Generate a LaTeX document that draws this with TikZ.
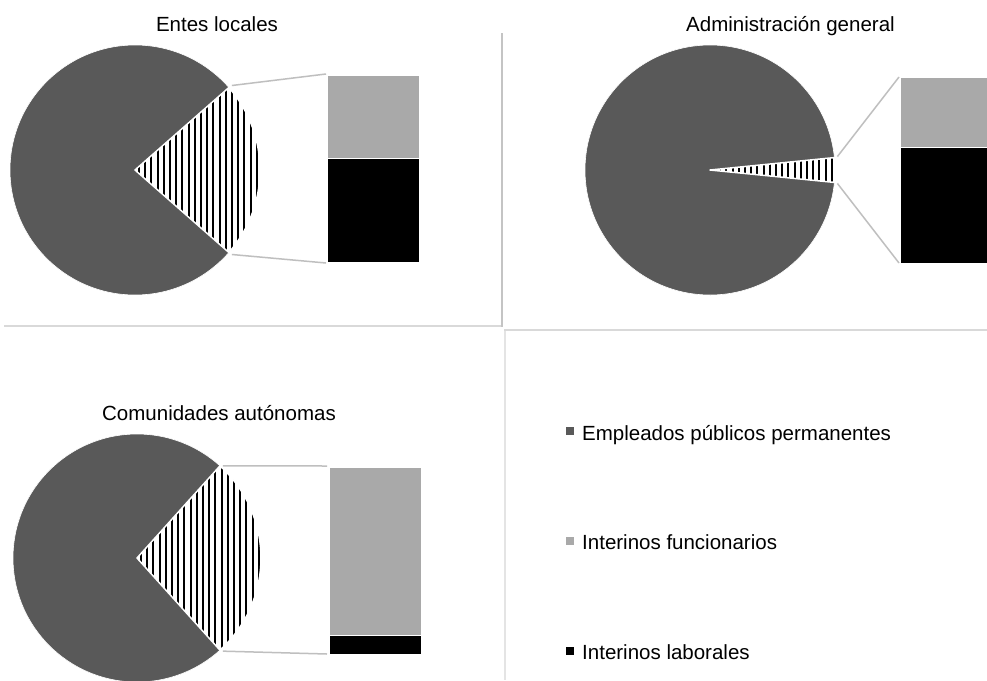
\documentclass[tikz,border=0pt]{standalone}
\usepackage{fontspec}
\setmainfont{Liberation Sans}
\usetikzlibrary{calc}
\definecolor{piedark}{HTML}{595959}
\definecolor{barlight}{HTML}{A9A9A9}
\definecolor{connc}{HTML}{BFBFBF}
\definecolor{gridc}{HTML}{D9D9D9}
\definecolor{gridd}{HTML}{C4C4C4}
\tikzset{
  hatchline/.style={black,line width=1.9pt},
  sepline/.style={white,line width=1.5pt,line join=round},
  connline/.style={connc,line width=1.5pt},
  barbox/.style={draw=white,line width=1pt},
  titletext/.style={inner sep=0pt,anchor=base,font=\fontsize{20.5}{24}\selectfont},
  legtext/.style={inner sep=0pt,anchor=base west,font=\fontsize{20.5}{24}\selectfont},
  legmark/.style={minimum size=0pt,inner sep=0pt},
}
\newcommand\mypie[5]{% cx, cy, r, half angle, name
  \coordinate (#5c) at (#1,#2);
  \fill[piedark] (#5c) -- ++(#4:#3) arc[start angle=#4, end angle=360-#4, radius=#3] -- cycle;
  \fill[white] (#5c) -- ++(-#4:#3) arc[start angle=-#4, end angle=#4, radius=#3] -- cycle;
  \begin{scope}
    \clip (#5c) -- ++(-#4:#3) arc[start angle=-#4, end angle=#4, radius=#3] -- cycle;
    \foreach \k in {0,...,21} \draw[hatchline] ($(#5c)+(\k*6.2+4,-#3)$) -- ++(0,2*#3);
  \end{scope}
  \draw[sepline] (#5c) -- ++(-#4:#3) arc[start angle=-#4, end angle=#4, radius=#3] -- cycle;
  \draw[white,line width=0.6pt] (#5c) circle[radius=#3];
  \coordinate (#5t) at ($(#5c)+(-#4:#3)$);
  \coordinate (#5b) at ($(#5c)+(#4:#3)$);
}
\begin{document}
\begin{tikzpicture}[x=1pt,y=-1pt]
\clip (0,0) rectangle (987,680);
\fill[white] (0,0) rectangle (987,680);

% panel borders
\draw[gridd,line width=2.5pt] (502,33) -- (502,327);
\draw[gridc,line width=1.5pt] (4,326) -- (501,326);
\draw[gridc,line width=2.5pt] (504,330) -- (987,330);
\draw[gridc!70,line width=1.5pt] (505,331) -- (505,680);

% titles
\node[titletext] (t1) at (217,31.5) {Entes locales};
\node[titletext] (t2) at (790.5,31.5) {Administración general};
\node[titletext] (t3) at (219,420) {Comunidades autónomas};

% chart 1
\mypie{135}{170}{125}{41.3}{p1}
\fill[barlight,barbox] (327,75) rectangle (419,158);
\fill[black,barbox] (327,158) rectangle (419,262);
\coordinate (b1t) at (326,74);
\coordinate (b1b) at (326,263);
\draw[connline] ($(p1t)+(3,-2)$) -- (b1t);
\draw[connline] ($(p1b)+(3,2)$) -- (b1b);

% chart 2
\mypie{710}{170}{125}{5.7}{p2}
\fill[barlight,barbox] (900,77) rectangle (995,147);
\fill[black,barbox] (900,147) rectangle (995,263);
\coordinate (b2t) at (899,77);
\coordinate (b2b) at (899,263);
\draw[connline] ($(p2t)+(3,-1)$) -- (b2t);
\draw[connline] ($(p2b)+(3,1)$) -- (b2b);

% chart 3
\mypie{137}{558}{124}{48}{p3}
\fill[barlight,barbox] (329,467) rectangle (421,635);
\fill[black,barbox] (329,635) rectangle (421,654);
\coordinate (b3t) at (327,466);
\coordinate (b3b) at (327,654);
\draw[connline] ($(p3t)+(3,0)$) -- (b3t);
\draw[connline] ($(p3b)+(3,1)$) -- (b3b);

% legend
\fill[piedark] (566,427) rectangle (574,435);
\fill[barlight] (566,537) rectangle (574,545);
\fill[black] (566,647) rectangle (574,655);
\node[legtext] (l1) at (582,440) {Empleados públicos permanentes};
\node[legtext] (l2) at (582,549) {Interinos funcionarios};
\node[legtext] (l3) at (582,659) {Interinos laborales};
\end{tikzpicture}
\end{document}
